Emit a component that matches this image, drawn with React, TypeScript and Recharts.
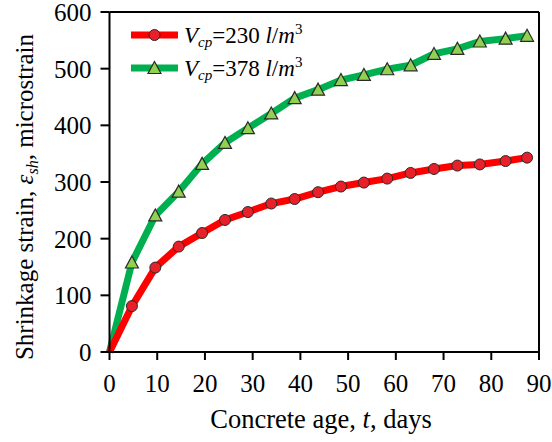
import { LineChart, Line, XAxis, YAxis, ReferenceLine, Label } from 'recharts';

const ages = [0, 4.7, 9.6, 14.5, 19.4, 24.2, 29, 33.9, 38.8, 43.7, 48.5, 53.3, 58.2, 63.1, 68, 72.9, 77.6, 83, 87.5];
const vcp230 = [0, 81, 149, 186, 210, 233, 247, 262, 270, 282, 292, 299, 306, 316, 323, 329, 331, 337, 343];
const vcp378 = [0, 158, 241, 283, 332, 369, 395, 421, 448, 463, 480, 489, 499, 506, 526, 535, 548, 553, 558];
const xTicks = [0, 10, 20, 30, 40, 50, 60, 70, 80, 90];
const yTicks = [0, 100, 200, 300, 400, 500, 600];

const data = ages.map((t, i) => ({ t, a: vcp230[i], b: vcp378[i] }));

const FONT = '"Liberation Serif", "Times New Roman", serif';
const RED = '#ff0000';
const RED_DOT = '#e8202a';
const GREEN = '#00b050';
const GREEN_DOT = '#92d050';
const EDGE = '#2a2a2a';

const circleDot = (props: any) => {
  const { cx, cy, index } = props;
  if (index === 0) return <g key={`c${index}`} />;
  return <circle key={`c${index}`} cx={cx} cy={cy} r={5.5} fill={RED_DOT} stroke={EDGE} strokeWidth={1} />;
};

const triDot = (props: any) => {
  const { cx, cy, index } = props;
  if (index === 0) return <g key={`t${index}`} />;
  const s = 6.5;
  return (
    <path
      key={`t${index}`}
      d={`M${cx},${cy - s} L${cx + s},${cy + s * 0.85} L${cx - s},${cy + s * 0.85} Z`}
      fill={GREEN_DOT}
      stroke={EDGE}
      strokeWidth={1.2}
    />
  );
};

const XTick = (props: any) => {
  const { x, y, payload } = props;
  return (
    <text x={x} y={y} dy="0.71em" textAnchor="middle" fontFamily={FONT} fontSize={25} fill="#000">
      {payload.value}
    </text>
  );
};

const YTick = (props: any) => {
  const { x, y, payload } = props;
  return (
    <text x={x} y={y} dy="0.355em" textAnchor="end" fontFamily={FONT} fontSize={25} fill="#000">
      {payload.value}
    </text>
  );
};

function LegendRow({ color, marker, value, top }: { color: string; marker: 'c' | 't'; value: string; top: number }) {
  return (
    <div style={{ position: 'absolute', left: 131, top, display: 'flex', alignItems: 'center', height: 24 }}>
      <svg width={48} height={20} style={{ display: 'block' }}>
        <line x1={0} y1={10} x2={47} y2={10} stroke={color} strokeWidth={7} />
        {marker === 'c' ? (
          <circle cx={23.5} cy={10} r={5.5} fill={RED_DOT} stroke={EDGE} strokeWidth={1} />
        ) : (
          <path d="M23.5,3.5 L30,15.5 L17,15.5 Z" fill={GREEN_DOT} stroke={EDGE} strokeWidth={1.2} />
        )}
      </svg>
      <span style={{ marginLeft: 5, fontFamily: FONT, fontSize: 23, color: '#000', whiteSpace: 'nowrap', lineHeight: '24px' }}>
        <i>V</i>
        <sub style={{ fontSize: 15, fontStyle: 'italic', verticalAlign: -4 }}>cp</sub>
        ={value} <i>l</i>/<i>m</i>
        <sup style={{ fontSize: 15, verticalAlign: 9 }}>3</sup>
      </span>
    </div>
  );
}

export default function App() {
  return (
    <div style={{ position: 'absolute', left: 0, top: 0, width: 552, height: 442, background: '#fff' }}>
      <LineChart width={552} height={442} data={data} margin={{ top: 12, right: 13, left: 0, bottom: 40 }}>
        <XAxis
          dataKey="t"
          type="number"
          domain={[0, 90]}
          ticks={xTicks}
          interval={0}
          height={50}
          stroke="#000"
          strokeWidth={2}
          tickSize={8}
          tickMargin={14}
          tick={XTick}
          tickLine={{ stroke: '#000', strokeWidth: 2 }}
        >
          <Label
            content={() => (
              <text x={321} y={428} textAnchor="middle" fontFamily={FONT} fontSize={26.5} fill="#000">
                Concrete age, <tspan fontStyle="italic">t</tspan>, days
              </text>
            )}
          />
        </XAxis>
        <YAxis
          type="number"
          domain={[0, 600]}
          ticks={yTicks}
          interval={0}
          width={109.5}
          stroke="#000"
          strokeWidth={2}
          tickSize={9}
          tickMargin={9}
          tick={YTick}
          tickLine={{ stroke: '#000', strokeWidth: 2 }}
        >
          <Label
            content={() => (
              <text
                x={0}
                y={0}
                transform="translate(33,197) rotate(-90)"
                textAnchor="middle"
                fontFamily={FONT}
                fontSize={25}
                fill="#000"
              >
                Shrinkage strain, <tspan fontStyle="italic">ε</tspan>
                <tspan fontStyle="italic" fontSize={16} dy={5}>sh</tspan>
                <tspan dy={-5}>, microstrain</tspan>
              </text>
            )}
          />
        </YAxis>
        <ReferenceLine y={600} stroke="#000" strokeWidth={2} />
        <ReferenceLine x={90} stroke="#000" strokeWidth={2} />
        <Line
          type="linear"
          dataKey="b"
          stroke={GREEN}
          strokeWidth={7}
          dot={triDot}
          activeDot={false}
          isAnimationActive={false}
        />
        <Line
          type="linear"
          dataKey="a"
          stroke={RED}
          strokeWidth={7}
          dot={circleDot}
          activeDot={false}
          isAnimationActive={false}
        />
      </LineChart>
      <LegendRow color={RED} marker="c" value="230" top={23} />
      <LegendRow color={GREEN} marker="t" value="378" top={56} />
    </div>
  );
}
